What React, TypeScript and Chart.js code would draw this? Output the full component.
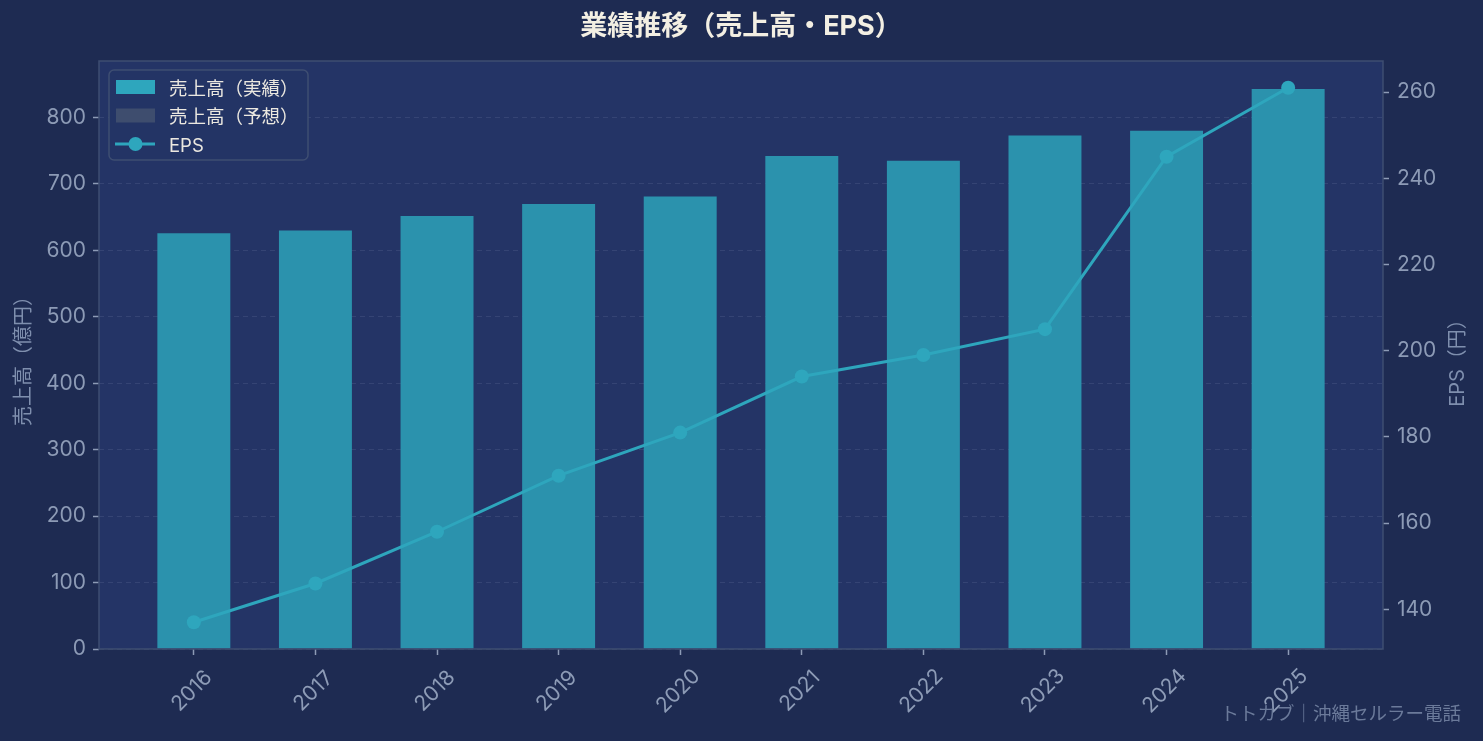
import React, { useEffect, useRef } from "react";
import { Chart, registerables } from "chart.js";

Chart.register(...registerables);

// ---- data ----
const years = ["2016", "2017", "2018", "2019", "2020", "2021", "2022", "2023", "2024", "2025"];
const salesActual = [626, 630, 652, 670, 681, 742, 735, 773, 780, 843];
const salesForecast: number[] = [];
const eps = [137, 146, 158, 171, 181, 194, 199, 205, 245, 261];
const salesTicks = [0, 100, 200, 300, 400, 500, 600, 700, 800];
const epsTicks = [140, 160, 180, 200, 220, 240, 260];
const titleText = "業績推移（売上高・EPS）";
const leftAxisTitle = "売上高（億円）";
const rightAxisTitle = "EPS（円）";
const watermarkText = "トトカブ｜沖縄セルラー電話";
const legendLabels = ["売上高（実績）", "売上高（予想）", "EPS"];

// ---- styles ----
const FONT = "Inter, 'Noto Sans CJK JP', sans-serif";
const FIG_BG = "#1e2b52";
const PLOT_BG = "#243466";
const SPINE = "#3e4e72";
const TICK_COLOR = "#8d9bb6";
const LABEL_COLOR = "#7f8fae";
const BAR_COLOR = "#2b92ad";
const BAR_LEGEND = "#2ea6bd";
const FORECAST_COLOR = "#3e4d6e";
const LINE_COLOR = "#2ea6bd";

const W = 1483;
const H = 741;

function App() {
  const ref = useRef<HTMLCanvasElement | null>(null);

  useEffect(() => {
    document.body.style.margin = "0";
    document.body.style.background = FIG_BG;
    const canvas = ref.current;
    if (!canvas) return;

    const n = years.length;
    const barW = 0.6;
    const xMin = -barW / 2 - 0.05 * (n - 1 + barW);
    const xMax = n - 1 + barW / 2 + 0.05 * (n - 1 + barW);
    const sMax = Math.max(...salesActual) * 1.05;
    const eMin = Math.min(...eps);
    const eMax = Math.max(...eps);
    const eR = eMax - eMin;

    const decor = {
      id: "decor",
      beforeDraw(chart: any) {
        const { ctx, chartArea: a } = chart;
        ctx.save();
        ctx.fillStyle = FIG_BG;
        ctx.fillRect(0, 0, chart.width, chart.height);
        ctx.fillStyle = PLOT_BG;
        ctx.fillRect(a.left, a.top, a.right - a.left, a.bottom - a.top);
        ctx.restore();
      },
      afterDraw(chart: any) {
        const { ctx, chartArea: a } = chart;
        ctx.save();
        // frame
        ctx.strokeStyle = SPINE;
        ctx.lineWidth = 1.5;
        ctx.strokeRect(a.left, a.top, a.right - a.left, a.bottom - a.top);

        // x tick labels (rotated 45, centered)
        const xs = chart.scales.x;
        ctx.font = `21px ${FONT}`;
        ctx.fillStyle = TICK_COLOR;
        ctx.textAlign = "center";
        ctx.textBaseline = "middle";
        years.forEach((lab, i) => {
          const px = xs.getPixelForValue(i);
          ctx.save();
          ctx.translate(px - 2, a.bottom + 42);
          ctx.rotate(-Math.PI / 4);
          ctx.fillText(lab, 0, 0);
          ctx.restore();
        });

        // axis titles
        ctx.font = `20px ${FONT}`;
        ctx.fillStyle = LABEL_COLOR;
        ctx.save();
        ctx.translate(24, (a.top + a.bottom) / 2 + 1);
        ctx.rotate(-Math.PI / 2);
        ctx.fillText(leftAxisTitle, 0, 0);
        ctx.restore();
        ctx.save();
        ctx.translate(1458, (a.top + a.bottom) / 2 + 3);
        ctx.rotate(-Math.PI / 2);
        ctx.fillText(rightAxisTitle, 0, 0);
        ctx.restore();

        // title
        ctx.font = `bold 27px ${FONT}`;
        ctx.fillStyle = "#f3efe3";
        ctx.textBaseline = "alphabetic";
        ctx.fillText(titleText, (a.left + a.right) / 2, 35);

        // legend
        const lx = a.left + 10;
        const ly = a.top + 9;
        const lw = 199;
        const lh = 90;
        ctx.beginPath();
        (ctx as any).roundRect(lx, ly, lw, lh, 5);
        ctx.fillStyle = "#233465";
        ctx.fill();
        ctx.strokeStyle = SPINE;
        ctx.lineWidth = 1.5;
        ctx.stroke();
        const rows = [ly + 17, ly + 45.5, ly + 74];
        ctx.fillStyle = BAR_LEGEND;
        ctx.fillRect(a.left + 17, rows[0] - 7, 39, 14);
        ctx.fillStyle = FORECAST_COLOR;
        ctx.fillRect(a.left + 17, rows[1] - 7, 39, 14);
        ctx.strokeStyle = LINE_COLOR;
        ctx.lineWidth = 3;
        ctx.beginPath();
        ctx.moveTo(a.left + 16, rows[2]);
        ctx.lineTo(a.left + 56, rows[2]);
        ctx.stroke();
        ctx.fillStyle = LINE_COLOR;
        ctx.beginPath();
        ctx.arc(a.left + 36.5, rows[2], 7, 0, Math.PI * 2);
        ctx.fill();
        ctx.font = `18.5px ${FONT}`;
        ctx.fillStyle = "#ebe8e0";
        ctx.textAlign = "left";
        legendLabels.forEach((t, i) => {
          ctx.fillText(t, a.left + 70, rows[i] + 7.5);
        });

        // watermark
        ctx.font = `18.5px ${FONT}`;
        ctx.fillStyle = "#6b7a9a";
        ctx.textAlign = "right";
        ctx.fillText(watermarkText, 1461, 720);
        ctx.restore();
      },
    };

    const chart = new Chart(canvas, {
      type: "bar",
      data: {
        datasets: [
          {
            type: "line",
            label: legendLabels[2],
            data: eps.map((v, i) => ({ x: i, y: v })),
            yAxisID: "y1",
            borderColor: LINE_COLOR,
            backgroundColor: LINE_COLOR,
            borderWidth: 3,
            pointRadius: 7,
            pointBorderWidth: 0,
            pointBackgroundColor: LINE_COLOR,
            tension: 0,
            order: 0,
          } as any,
          {
            type: "bar",
            label: legendLabels[0],
            data: salesActual.map((v, i) => ({ x: i, y: v })),
            yAxisID: "y",
            backgroundColor: BAR_COLOR,
            borderWidth: 0,
            barPercentage: barW,
            categoryPercentage: 1,
            grouped: false,
            order: 1,
          } as any,
          {
            type: "bar",
            label: legendLabels[1],
            data: salesForecast.map((v, i) => ({ x: i, y: v })),
            yAxisID: "y",
            backgroundColor: FORECAST_COLOR,
            borderWidth: 0,
            barPercentage: barW,
            categoryPercentage: 1,
            grouped: false,
            order: 1,
          } as any,
        ],
      },
      options: {
        responsive: false,
        animation: false,
        devicePixelRatio: 1,
        layout: { padding: { top: 61, left: 0, right: 0, bottom: 0 } },
        plugins: {
          legend: { display: false },
          title: { display: false },
          tooltip: { enabled: false },
        },
        scales: {
          x: {
            type: "linear",
            position: "bottom",
            offset: false,
            min: xMin,
            max: xMax,
            afterBuildTicks: (s: any) => {
              s.ticks = years.map((_, i) => ({ value: i }));
            },
            afterFit: (s: any) => {
              s.height = 92;
            },
            ticks: { display: false },
            grid: {
              display: true,
              offset: false,
              drawOnChartArea: false,
              drawTicks: true,
              tickLength: 6,
              tickColor: TICK_COLOR,
              tickWidth: 1.5,
            },
            border: { display: false },
          },
          y: {
            type: "linear",
            position: "left",
            min: 0,
            max: sMax,
            afterBuildTicks: (s: any) => {
              s.ticks = salesTicks.map((v) => ({ value: v }));
            },
            afterFit: (s: any) => {
              s.width = 99;
            },
            ticks: {
              color: TICK_COLOR,
              font: { family: FONT, size: 21 },
              padding: 7,
            },
            grid: {
              color: "rgba(140,155,195,0.16)",
              lineWidth: 1,
              drawTicks: true,
              tickLength: 6,
              tickColor: TICK_COLOR,
              tickWidth: 1.5,
            },
            border: { display: false, dash: [5, 4] },
          },
          y1: {
            type: "linear",
            position: "right",
            min: eMin - 0.05 * eR,
            max: eMax + 0.05 * eR,
            afterBuildTicks: (s: any) => {
              s.ticks = epsTicks.map((v) => ({ value: v }));
            },
            afterFit: (s: any) => {
              s.width = 100;
            },
            ticks: {
              color: TICK_COLOR,
              font: { family: FONT, size: 21 },
              padding: 8,
            },
            grid: {
              drawOnChartArea: false,
              drawTicks: true,
              tickLength: 6,
              tickColor: TICK_COLOR,
              tickWidth: 1.5,
            },
            border: { display: false },
          },
        },
      },
      plugins: [decor],
    } as any);

    return () => {
      chart.destroy();
    };
  }, []);

  return (
    <div style={{ width: W, height: H, background: FIG_BG }}>
      <canvas ref={ref} width={W} height={H} style={{ display: "block", width: W, height: H }} />
    </div>
  );
}

export default App;
